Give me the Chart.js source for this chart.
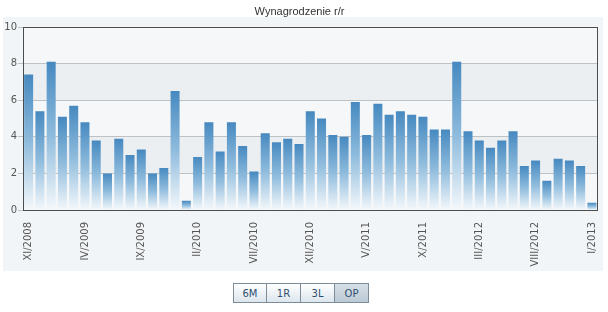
<!DOCTYPE html>
<html>
<head>
<meta charset="utf-8">
<script src="https://cdn.jsdelivr.net/npm/chart.js@4"></script>
<style>
  html, body { margin: 0; padding: 0; background: #fff; }
  #wrap { position: relative; width: 608px; height: 312px; }
  #chart { position: absolute; left: 0; top: 0; }
  .range { position: absolute; left: 233px; top: 283px; display: flex; }
  .range button {
    width: 34px; height: 20px; margin: 0; padding: 0;
    border: 1px solid #7d8c99; border-left-width: 0;
    background: linear-gradient(#ffffff, #dce6ed);
    font: 10px "DejaVu Sans", sans-serif; color: #2f4f6f;
  }
  .range button:first-child { border-left-width: 1px; }
  .range button.active { background: linear-gradient(#d6dee5, #bccad5); }
</style>
</head>
<body>
<div id="wrap">
  <canvas id="chart" width="608" height="312"></canvas>
  <div class="range">
    <button>6M</button><button>1R</button><button>3L</button><button class="active">OP</button>
  </div>
</div>
<script>
const months = [
  "XI/2008", "XII/2008",
  "I/2009", "II/2009", "III/2009", "IV/2009", "V/2009", "VI/2009", "VII/2009", "VIII/2009", "IX/2009", "X/2009", "XI/2009", "XII/2009",
  "I/2010", "II/2010", "III/2010", "IV/2010", "V/2010", "VI/2010", "VII/2010", "VIII/2010", "IX/2010", "X/2010", "XI/2010", "XII/2010",
  "I/2011", "II/2011", "III/2011", "IV/2011", "V/2011", "VI/2011", "VII/2011", "VIII/2011", "IX/2011", "X/2011", "XI/2011", "XII/2011",
  "I/2012", "II/2012", "III/2012", "IV/2012", "V/2012", "VI/2012", "VII/2012", "VIII/2012", "IX/2012", "X/2012", "XI/2012", "XII/2012",
  "I/2013"
];
const wages = [
  7.4, 5.4, 8.1, 5.1, 5.7, 4.8, 3.8, 2.0, 3.9, 3.0,
  3.3, 2.0, 2.3, 6.5, 0.5, 2.9, 4.8, 3.2, 4.8, 3.5,
  2.1, 4.2, 3.7, 3.9, 3.6, 5.4, 5.0, 4.1, 4.0, 5.9,
  4.1, 5.8, 5.2, 5.4, 5.2, 5.1, 4.4, 4.4, 8.1, 4.3,
  3.8, 3.4, 3.8, 4.3, 2.4, 2.7, 1.6, 2.8, 2.7, 2.4, 0.4
];
const yTicks = [0, 2, 4, 6, 8, 10];
const labelEvery = 5;

// panel, bands and frame
const backdrop = {
  id: "backdrop",
  beforeDraw(chart) {
    const c = chart.ctx, a = chart.chartArea, y = chart.scales.y;
    c.save();
    c.fillStyle = "#f2f5f7";
    c.fillRect(3, 17, 600, 254);
    for (let i = 0; i < yTicks.length - 1; i++) {
      const t = y.getPixelForValue(yTicks[i + 1]), b = y.getPixelForValue(yTicks[i]);
      c.fillStyle = i % 2 ? "#eceff1" : "#f5f7f8";
      c.fillRect(a.left, t, a.right - a.left, b - t);
    }
    c.restore();
  },
  afterDatasetsDraw(chart) {
    const c = chart.ctx, a = chart.chartArea;
    c.save();
    c.strokeStyle = "#4d4d4d";
    c.lineWidth = 1;
    c.strokeRect(Math.round(a.left) + 0.5, Math.round(a.top) + 0.5,
      Math.round(a.right - a.left) - 1, Math.round(a.bottom - a.top));
    c.restore();
  }
};

new Chart(document.getElementById("chart"), {
  type: "bar",
  data: {
    labels: months,
    datasets: [{
      data: wages,
      barPercentage: 0.8,
      categoryPercentage: 1.0,
      borderWidth: 0,
      backgroundColor: ctx => {
        const chart = ctx.chart;
        const y = chart.scales && chart.scales.y;
        if (!chart.chartArea || !y || ctx.type !== "data") return "#4a8dc3";
        const top = y.getPixelForValue(ctx.parsed.y);
        const base = y.getPixelForValue(0);
        const g = chart.ctx.createLinearGradient(0, top, 0, base);
        g.addColorStop(0, "#4689c0");
        g.addColorStop(0.5, "#8fbcdd");
        g.addColorStop(1, "#f4f8fb");
        return g;
      }
    }]
  },
  options: {
    responsive: false,
    animation: false,
    layout: { padding: { left: 0, right: 9, top: 0, bottom: 0 } },
    plugins: {
      legend: { display: false },
      tooltip: { enabled: false },
      title: {
        display: true,
        text: "Wynagrodzenie r/r",
        color: "#333",
        font: { family: "Liberation Sans", size: 11, weight: "normal" },
        padding: { top: 5, bottom: 8.8 }
      }
    },
    scales: {
      x: {
        grid: { display: false },
        border: { display: false },
        afterFit: s => { s.height = 102; },
        ticks: {
          autoSkip: false,
          minRotation: 90,
          maxRotation: 90,
          padding: 4,
          color: "#555",
          font: { family: "DejaVu Sans", size: 10 },
          callback: (v, i) => i % labelEvery === 0 ? months[i] : ""
        }
      },
      y: {
        min: 0,
        max: 10,
        afterFit: s => { s.width = 23; },
        afterBuildTicks: s => { s.ticks = yTicks.map(v => ({ value: v })); },
        border: { display: false },
        grid: { color: "#bfc2c4", tickLength: 5, drawOnChartArea: true },
        ticks: {
          padding: 1,
          color: "#555",
          font: { family: "DejaVu Sans", size: 10 }
        }
      }
    }
  },
  plugins: [backdrop]
});
</script>
</body>
</html>
